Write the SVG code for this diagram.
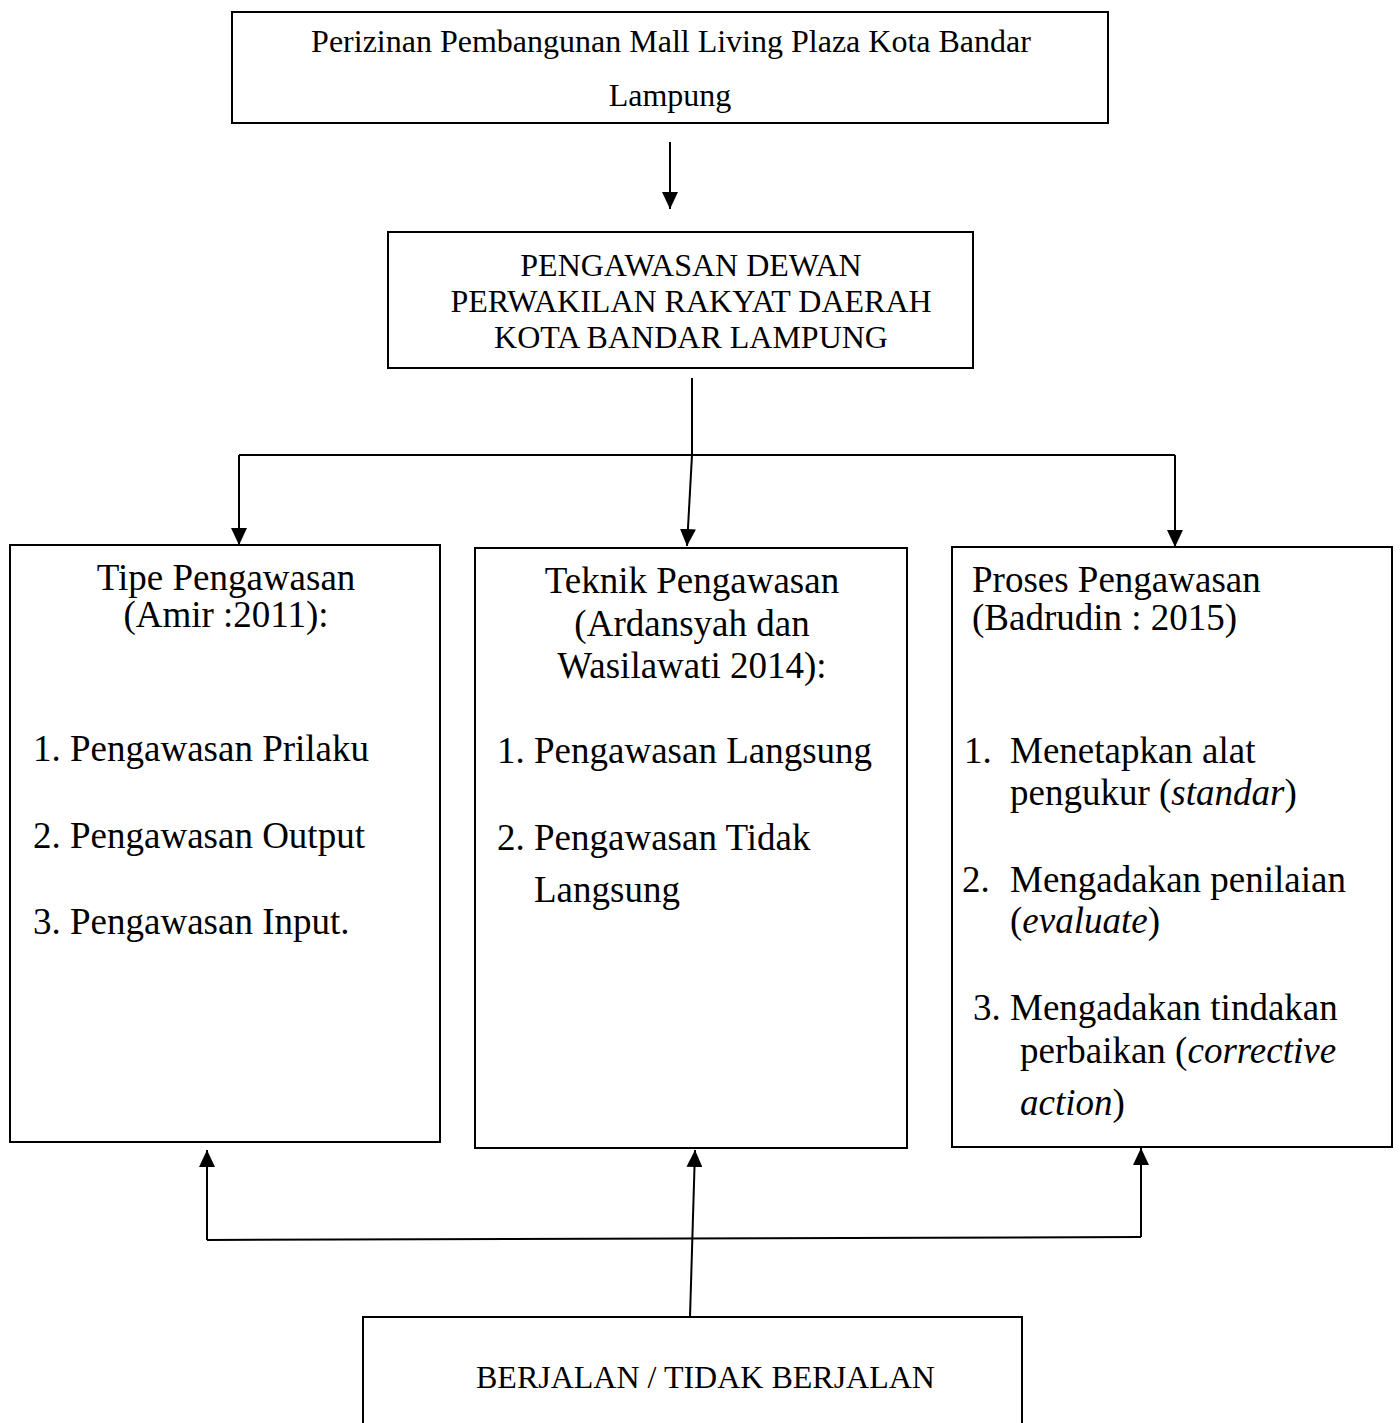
<svg xmlns="http://www.w3.org/2000/svg" width="1400" height="1423" viewBox="0 0 1400 1423">
<style>
.box{fill:#fff;stroke:#000;stroke-width:2}
.t32{font-family:"Liberation Serif","Times New Roman",serif;font-size:32px;fill:#000}
.t37{font-family:"Liberation Serif","Times New Roman",serif;font-size:37px;fill:#000}
.c{text-anchor:middle}
.conn{stroke:#000;stroke-width:2;fill:none}
</style>
<defs>
<marker id="arr" viewBox="0 0 17 16" markerWidth="17" markerHeight="16" refX="17" refY="8" orient="auto" markerUnits="userSpaceOnUse">
<path d="M0,0 L17,8 L0,16 z" fill="#000"/>
</marker>
</defs>
<rect width="1400" height="1423" fill="#fff"/>

<g id="connectors">
<line class="conn" x1="670" y1="142" x2="670" y2="209" marker-end="url(#arr)"/>
<line class="conn" x1="692" y1="378" x2="692" y2="455"/>
<polyline class="conn" points="239,455 1175,455"/>
<line class="conn" x1="239" y1="455" x2="239" y2="545" marker-end="url(#arr)"/>
<line class="conn" x1="692" y1="455" x2="687" y2="546" marker-end="url(#arr)"/>
<line class="conn" x1="1175" y1="455" x2="1175" y2="547" marker-end="url(#arr)"/>
<line class="conn" x1="690" y1="1317" x2="695" y2="1150" marker-end="url(#arr)"/>
<line class="conn" x1="207" y1="1240" x2="1141" y2="1237"/>
<line class="conn" x1="207" y1="1240" x2="207" y2="1150" marker-end="url(#arr)"/>
<line class="conn" x1="1141" y1="1237" x2="1141" y2="1148" marker-end="url(#arr)"/>
</g>

<g id="node-perizinan">
<rect class="box" x="232" y="12" width="876" height="111"/>
<text class="t32 c" x="671" y="52">Perizinan Pembangunan Mall Living Plaza Kota Bandar</text>
<text class="t32 c" x="670" y="106">Lampung</text>
</g>

<g id="node-pengawasan-dprd">
<rect class="box" x="388" y="232" width="585" height="136"/>
<text class="t32 c" x="691" y="276">PENGAWASAN DEWAN</text>
<text class="t32 c" x="691" y="312">PERWAKILAN RAKYAT DAERAH</text>
<text class="t32 c" x="691" y="348">KOTA BANDAR LAMPUNG</text>
</g>

<g id="node-tipe">
<rect class="box" x="10" y="545" width="430" height="597"/>
<text class="t37 c" x="226" y="590">Tipe Pengawasan</text>
<text class="t37 c" x="226" y="627">(Amir :2011):</text>
<text class="t37" x="33" y="761">1. Pengawasan Prilaku</text>
<text class="t37" x="33" y="848">2. Pengawasan Output</text>
<text class="t37" x="33" y="934">3. Pengawasan Input.</text>
</g>

<g id="node-teknik">
<rect class="box" x="475" y="548" width="432" height="600"/>
<text class="t37 c" x="692" y="593">Teknik Pengawasan</text>
<text class="t37 c" x="692" y="636">(Ardansyah dan</text>
<text class="t37 c" x="692" y="678">Wasilawati 2014):</text>
<text class="t37" x="497" y="763">1. Pengawasan Langsung</text>
<text class="t37" x="497" y="850">2. Pengawasan Tidak</text>
<text class="t37" x="534" y="902">Langsung</text>
</g>

<g id="node-proses">
<rect class="box" x="952" y="547" width="440" height="600"/>
<text class="t37" x="972" y="592">Proses Pengawasan</text>
<text class="t37" x="972" y="630">(Badrudin : 2015)</text>
<text class="t37" x="964" y="763">1.</text>
<text class="t37" x="1010" y="763">Menetapkan alat</text>
<text class="t37" x="1010" y="805">pengukur (<tspan font-style="italic">standar</tspan>)</text>
<text class="t37" x="962" y="892">2.</text>
<text class="t37" x="1010" y="892">Mengadakan penilaian</text>
<text class="t37" x="1010" y="933">(<tspan font-style="italic">evaluate</tspan>)</text>
<text class="t37" x="973" y="1020">3. Mengadakan tindakan</text>
<text class="t37" x="1020" y="1063">perbaikan (<tspan font-style="italic">corrective</tspan></text>
<text class="t37" x="1020" y="1115"><tspan font-style="italic">action</tspan>)</text>
</g>

<g id="node-berjalan">
<path class="box" d="M363,1440 L363,1317 L1022,1317 L1022,1440"/>
<text class="t32" x="476" y="1388">BERJALAN / TIDAK BERJALAN</text>
</g>
</svg>
